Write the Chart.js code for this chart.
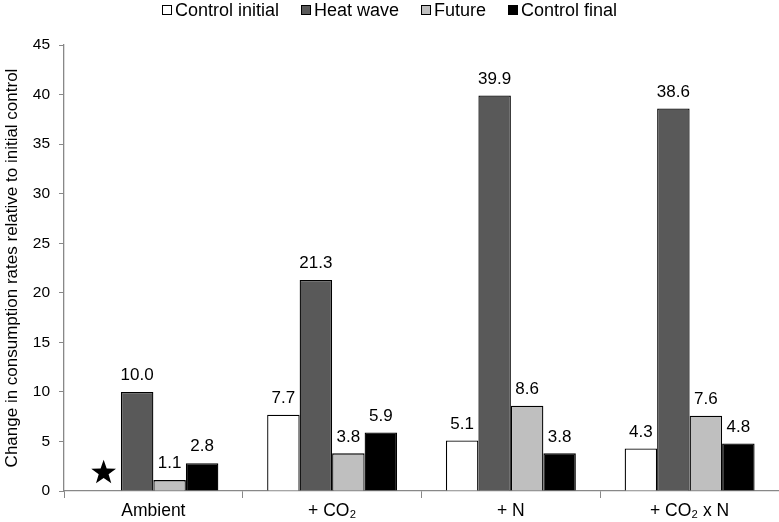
<!DOCTYPE html>
<html>
<head>
<meta charset="utf-8">
<script src="https://cdn.jsdelivr.net/npm/chart.js@4"></script>
<style>
  html, body { margin: 0; padding: 0; background: #fff; }
  #wrap { width: 779px; height: 522px; position: relative; }
  #legend {
    position: absolute; left: 0; top: 0; width: 779px; height: 20px;
    display: flex; justify-content: center; align-items: center;
    font: 18px 'Liberation Sans', Arial, Helvetica, sans-serif; color: #000;
    line-height: 20px; z-index: 2;
  }
  #legend .item { display: flex; align-items: center; margin: 0 11px; white-space: nowrap; }
  #legend .box { width: 8px; height: 8px; border: 1px solid #000; margin-right: 3px; }
</style>
</head>
<body>
<div id="wrap">
  <div id="legend"></div>
  <canvas id="chart"></canvas>
</div>
<script>
// categorías y series
const CATEGORIES = ['Ambient', '+ CO\u2082', '+ N', '+ CO\u2082 x N'];
const CONTROL_INITIAL = [null, 7.7, 5.1, 4.3];
const HEAT_WAVE = [10.0, 21.3, 39.9, 38.6];
const FUTURE = [1.1, 3.8, 8.6, 7.6];
const CONTROL_FINAL = [2.8, 5.9, 3.8, 4.8];
// estrella en lugar de la barra "Control initial" de Ambient
const STAR_VALUES = [2.0, null, null, null];

const FONT = "'Liberation Sans', Arial, Helvetica, sans-serif";
const AXIS = '#888888';

// etiquetas numéricas encima de cada barra
const valueLabels = {
  id: 'valueLabels',
  afterDatasetsDraw(chart) {
    const ctx = chart.ctx;
    ctx.save();
    ctx.font = '17px ' + FONT;
    ctx.fillStyle = '#000';
    ctx.textAlign = 'center';
    ctx.textBaseline = 'bottom';
    chart.data.datasets.forEach((ds, di) => {
      const meta = chart.getDatasetMeta(di);
      meta.data.forEach((el, i) => {
        const v = ds.data[i];
        if (v === null || v === undefined) return;
        ctx.fillText(v.toFixed(1), el.x, el.y - 8);
      });
    });
    ctx.restore();
  }
};

// estrella negra (posición de la barra 0 del grupo)
const starMarker = {
  id: 'starMarker',
  afterDatasetsDraw(chart) {
    const ctx = chart.ctx;
    const y = chart.scales.y;
    const m1 = chart.getDatasetMeta(1).data;
    const m2 = chart.getDatasetMeta(2).data;
    STAR_VALUES.forEach((v, i) => {
      if (v === null) return;
      const cx = m1[i].x - (m2[i].x - m1[i].x) - 1;
      const cy = y.getPixelForValue(v);
      const R = 13, r = 5.2;
      ctx.save();
      ctx.beginPath();
      for (let k = 0; k < 10; k++) {
        const a = -Math.PI / 2 + k * Math.PI / 5;
        const rad = k % 2 === 0 ? R : r;
        const px = cx + rad * Math.cos(a), py = cy + 1.5 + rad * Math.sin(a);
        k === 0 ? ctx.moveTo(px, py) : ctx.lineTo(px, py);
      }
      ctx.closePath();
      ctx.fillStyle = '#000';
      ctx.fill();
      ctx.restore();
    });
  }
};

const mk = (label, data, color) => ({
  label, data,
  backgroundColor: color,
  borderColor: '#000',
  borderWidth: 1.3,
  barPercentage: 1,
  categoryPercentage: 0.727
});

const chart = new Chart(document.getElementById('chart'), {
  type: 'bar',
  data: {
    labels: CATEGORIES,
    datasets: [
      mk('Control initial', CONTROL_INITIAL, '#ffffff'),
      mk('Heat wave', HEAT_WAVE, '#595959'),
      mk('Future', FUTURE, '#bfbfbf'),
      mk('Control final', CONTROL_FINAL, '#000000')
    ]
  },
  options: {
    responsive: true,
    maintainAspectRatio: false,
    animation: false,
    layout: { padding: { top: 45, right: 0, left: 2, bottom: 0 } },
    plugins: {
      legend: { display: false },
      tooltip: { enabled: false }
    },
    scales: {
      x: {
        afterFit(axis) { axis.height = 31; },
        grid: { display: true, offset: true, drawOnChartArea: false, tickLength: 7, color: AXIS },
        border: { color: AXIS, width: 1.3 },
        ticks: { color: '#000', padding: 3, font: { size: 17.5, family: FONT } }
      },
      y: {
        min: 0, max: 45,
        afterFit(axis) { axis.width = 62; },
        grid: { drawOnChartArea: false, tickLength: 5, color: AXIS },
        border: { color: AXIS, width: 1.3 },
        ticks: { stepSize: 5, color: '#000', padding: 9, font: { size: 15.5, family: FONT } },
        title: {
          display: true,
          text: 'Change in consumption rates relative to initial control',
          color: '#000',
          padding: { top: 0, bottom: 4 },
          font: { size: 17, family: FONT }
        }
      }
    }
  },
  plugins: [valueLabels, starMarker]
});

// leyenda HTML a partir de los datasets
document.getElementById('legend').innerHTML = chart.data.datasets.map(ds =>
  `<span class="item"><span class="box" style="background:${ds.backgroundColor}"></span>${ds.label}</span>`
).join('');
</script>
</body>
</html>
